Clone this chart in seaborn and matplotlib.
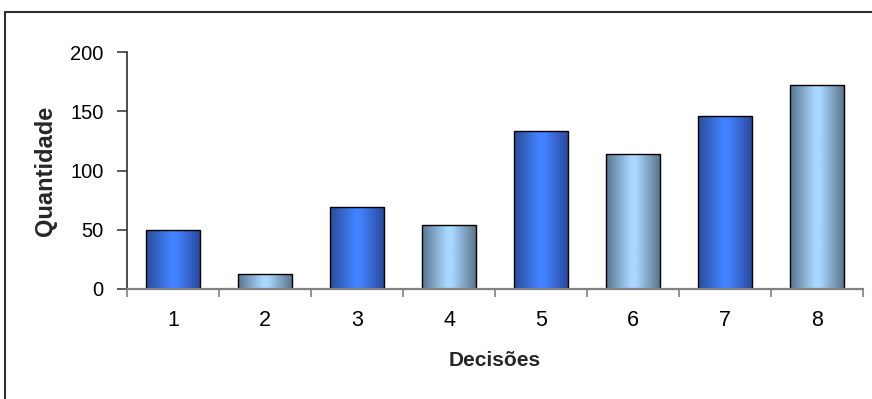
import numpy as np
import pandas as pd
import matplotlib
matplotlib.use("Agg")
import matplotlib.pyplot as plt
from matplotlib.colors import LinearSegmentedColormap
from matplotlib.patches import Rectangle
import seaborn as sns

# Data
decisoes = ["1", "2", "3", "4", "5", "6", "7", "8"]
quantidade = [50, 13, 69, 54, 133, 114, 146, 172]
yticks = [0, 50, 100, 150, 200]

sns.set_theme(style="white")
plt.rcParams["font.family"] = ["Liberation Sans", "DejaVu Sans"]

df = pd.DataFrame({"Decisões": decisoes, "Quantidade": quantidade})

fig = plt.figure(figsize=(8.72, 3.99), dpi=100)
ax = fig.add_axes([127 / 872, 1 - 289 / 399, (863 - 127) / 872, (289 - 52) / 399])

sns.barplot(data=df, x="Decisões", y="Quantidade", ax=ax, width=0.59,
            color="white", edgecolor="black", linewidth=1.0, saturation=1)

# Horizontal cylinder-like shading for alternating bars
blue_cmap = LinearSegmentedColormap.from_list(
    "blue", [(0.0, "#2a4c98"), (0.45, "#4282ff"), (0.55, "#4282ff"), (1.0, "#28489a")])
light_cmap = LinearSegmentedColormap.from_list(
    "light", [(0.0, "#587590"), (0.45, "#a9d6ff"), (0.55, "#a9d6ff"), (1.0, "#587088")])
grad = np.linspace(0, 1, 256).reshape(1, -1)

for i, patch in enumerate(ax.patches):
    x0, y0 = patch.get_x(), patch.get_y()
    w, h = patch.get_width(), patch.get_height()
    cmap = blue_cmap if i % 2 == 0 else light_cmap
    im = ax.imshow(grad, cmap=cmap, aspect="auto", extent=[x0, x0 + w, y0, y0 + h],
                   zorder=patch.get_zorder() - 0.1, interpolation="bilinear")
    im.set_clip_path(patch)
    patch.set_facecolor("none")
    patch.set_zorder(patch.get_zorder() + 0.1)

ax.set_xlim(-0.5, len(decisoes) - 0.5)
ax.set_ylim(0, 200)
ax.set_yticks(yticks)
ax.set_yticklabels([str(v) for v in yticks])

# Category ticks between bars
ax.set_xticks(np.arange(len(decisoes)))
ax.set_xticks(np.arange(-0.5, len(decisoes)), minor=True)
ax.tick_params(axis="x", which="major", length=0, pad=15, labelsize=15.5, colors="black")
ax.tick_params(axis="x", which="minor", length=6, width=1.2, color="#808080", direction="out")
ax.tick_params(axis="y", which="major", length=7, width=1.2, color="#404040",
               direction="out", pad=10, labelsize=14.5, labelcolor="black")
ax.tick_params(left=True, bottom=True, which="both")

for side in ["top", "right"]:
    ax.spines[side].set_visible(False)
ax.spines["left"].set_color("#303030")
ax.spines["left"].set_linewidth(1.2)
ax.spines["bottom"].set_color("#808080")
ax.spines["bottom"].set_linewidth(1.6)

ax.set_xlabel("Decisões", fontsize=15, fontweight="bold")
ax.xaxis.set_label_coords(0.5, -(361 - 289) / 237, transform=ax.transAxes)
ax.xaxis.label.set_va("center")
ax.set_ylabel("Quantidade", fontsize=17, fontweight="bold")
ax.yaxis.set_label_coords(-(127 - 46) / 736, 0.5, transform=ax.transAxes)
ax.yaxis.label.set_va("center")

# Chart-area frame
fig.patches.append(Rectangle((5 / 872, -0.2), 1.2, 1 - 12 / 399 + 0.2,
                             transform=fig.transFigure, fill=False,
                             edgecolor="#303030", linewidth=1.5))

fig.savefig("out.png", dpi=100)
